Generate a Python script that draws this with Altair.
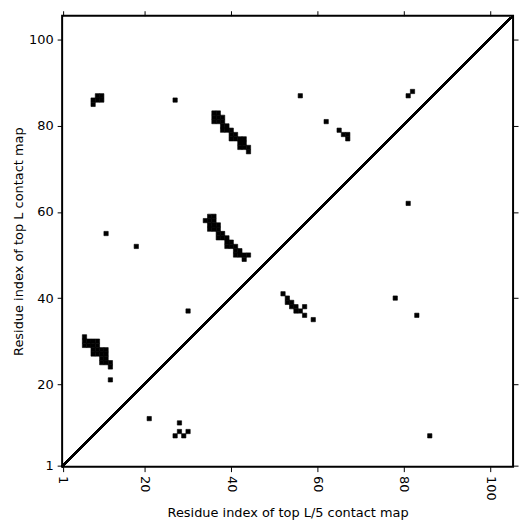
import altair as alt
import pandas as pd

# contact cells (x = residue i, y = residue j)
xs = [
    # upper-left block
    9, 10, 9, 10, 8, 8,
    27,
    # diagonal band near (36..44, 74..83)
    36, 37, 36, 37, 38, 36, 37, 38, 38, 39, 38, 39, 40, 40, 41, 40, 41, 42, 43, 42, 43, 42, 43, 44, 44,
    # middle band (34..44, 49..59)
    35, 36, 34, 35, 36, 35, 36, 37, 35, 36, 37, 37, 38, 37, 38, 39, 39, 40, 39, 40, 41, 41, 42, 41, 42, 43, 44, 43,
    # left band (6..12, 24..31)
    6, 6, 6, 7, 7, 8, 8, 8, 8, 9, 9, 9, 9, 10, 10, 10, 10, 11, 11, 11, 11, 12, 12,
    12, 11, 18, 30,
    56, 62, 65, 66, 67, 67, 81, 82, 81,
    # lower triangle
    21, 28, 27, 28, 29, 30,
    52, 53, 53, 54, 54, 55, 55, 56, 57, 57, 59, 78, 83, 86,
]
ys = [
    87, 87, 86, 86, 86, 85,
    86,
    83, 83, 82, 82, 82, 81, 81, 81, 80, 80, 79, 79, 79, 78, 78, 77, 77, 77, 77, 76, 76, 75, 75, 75, 74,
    59, 59, 58, 58, 58, 57, 57, 57, 56, 56, 56, 55, 55, 54, 54, 54, 53, 53, 52, 52, 52, 51, 51, 50, 50, 50, 50, 49,
    31, 30, 29, 30, 29, 30, 29, 28, 27, 30, 29, 28, 27, 28, 27, 26, 25, 28, 27, 26, 25, 25, 24,
    21, 55, 52, 37,
    87, 81, 79, 78, 78, 77, 87, 88, 62,
    12, 11, 8, 9, 8, 9,
    41, 40, 39, 39, 38, 38, 37, 37, 38, 36, 35, 40, 36, 8,
]

tick_values = [1, 20, 40, 60, 80, 100]
x_domain = [0.82, 105.3]
y_domain = [0.84, 105.6]

df = pd.DataFrame({"i": xs, "j": ys})

W, H = 454, 454
FONT = "DejaVu Sans"

xscale = alt.Scale(domain=x_domain, nice=False, zero=False)
yscale = alt.Scale(domain=y_domain, nice=False, zero=False)

common_axis = dict(values=tick_values, domain=False, tickColor="black", tickSize=5,
                   tickWidth=1, labelFont=FONT, labelFontSize=13, labelColor="black",
                   titleFont=FONT, titleFontSize=13, titleColor="black",
                   titleFontWeight="normal", grid=False, labelPadding=4)

cells = alt.Chart(df).mark_rect(color="black", stroke="black", strokeWidth=0.6).transform_calculate(
    x1="datum.i - 0.5", x2="datum.i + 0.5", y1="datum.j - 0.5", y2="datum.j + 0.5"
).encode(
    x=alt.X("x1:Q", scale=xscale,
            axis=alt.Axis(title="Residue index of top L/5 contact map", labelAngle=90,
                          labelAlign="left", labelBaseline="middle", labelFlush=False,
                          titlePadding=6, **common_axis)),
    x2="x2:Q",
    y=alt.Y("y1:Q", scale=yscale,
            axis=alt.Axis(title="Residue index of top L contact map", labelFlush=False,
                          titlePadding=3, **common_axis)),
    y2="y2:Q",
)

mirror = alt.Chart(df).mark_point(opacity=0).encode(
    x=alt.X("i:Q", scale=xscale,
            axis=alt.Axis(orient="top", labels=False, title=None, values=tick_values,
                          domain=False, tickColor="black", tickSize=5, tickWidth=1, grid=False)),
    y=alt.Y("j:Q", scale=yscale,
            axis=alt.Axis(orient="right", labels=False, title=None, values=tick_values,
                          domain=False, tickColor="black", tickSize=5, tickWidth=1, grid=False)),
)

diag = alt.Chart(df).mark_rule(color="black", strokeWidth=1.5).encode(
    x=alt.value(0), x2=alt.value(W), y=alt.value(H), y2=alt.value(0)
)

chart = alt.layer(cells, mirror, diag).resolve_axis(
    x="independent", y="independent"
).properties(
    width=W, height=H,
    autosize=alt.AutoSizeParams(type="none"),
    padding={"left": 54.5, "top": 6, "right": 10, "bottom": 60},
).configure_view(stroke="black", strokeWidth=2)

chart.save("out.html", embed_options={"renderer": "svg", "actions": False})
